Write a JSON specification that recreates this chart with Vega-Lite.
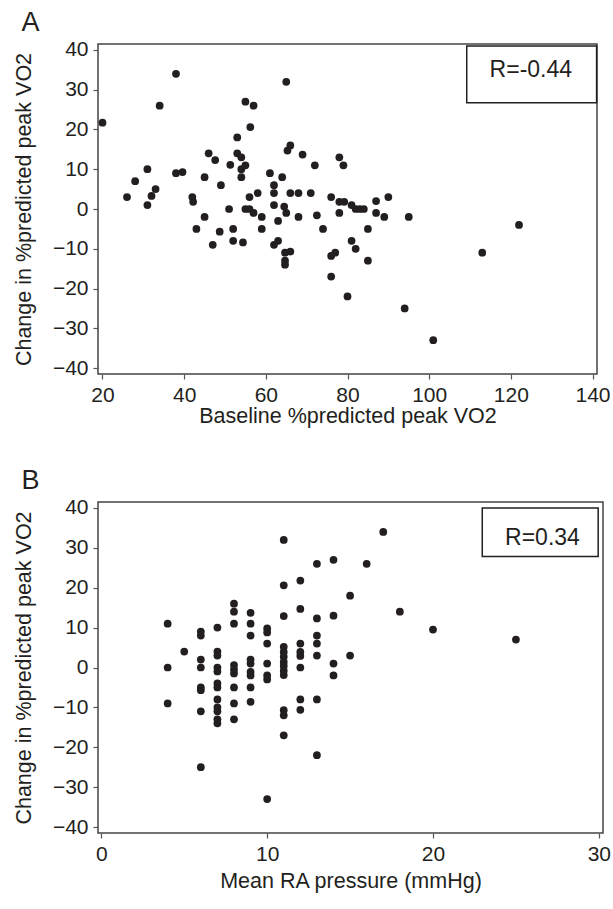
{
  "$schema": "https://vega.github.io/schema/vega-lite/v6.json",
  "background": "white",
  "padding": {"left": 12, "top": 8, "right": 0, "bottom": 4},
  "spacing": 38,
  "config": {
    "font": "Liberation Sans",
    "view": {"stroke": "#444", "strokeWidth": 1.5},
    "axis": {"grid": false, "domain": false, "labelFontSize": 21, "titleFontSize": 21.5, "labelColor": "#231f20", "titleColor": "#231f20", "tickColor": "#555", "titleFontWeight": "normal", "labelPadding": 5, "tickSize": 5, "tickWidth": 1.2},
    "axisY": {"titlePadding": 17},
    "title": {"fontSize": 27, "fontWeight": "normal", "anchor": "start", "frame": "bounds", "color": "#231f20", "offset": 2, "dx": 8}
  },
  "datasets": {
    "a": [
      {"x":20,"y":21.7},{"x":38,"y":34},{"x":34,"y":26},{"x":55,"y":27},{"x":57,"y":26},{"x":56.2,"y":20.6},{"x":53,"y":18},{"x":46,"y":14},{"x":47.6,"y":12.3},{"x":53,"y":14},{"x":54,"y":13},{"x":51.3,"y":11.1},{"x":55,"y":11},{"x":54,"y":10},{"x":54,"y":8},{"x":31,"y":10},{"x":28,"y":7},{"x":26,"y":3},{"x":33,"y":5},{"x":32,"y":3.3},{"x":31,"y":1},{"x":38,"y":9},{"x":39.6,"y":9.3},{"x":45,"y":8},{"x":49,"y":6},{"x":42,"y":3},{"x":42.2,"y":1.8},{"x":51,"y":0},{"x":55,"y":0},{"x":56,"y":0},{"x":56,"y":3},{"x":58,"y":4},{"x":61,"y":9},{"x":62,"y":6},{"x":62,"y":4},{"x":62,"y":1},{"x":65,"y":32},{"x":66,"y":16},{"x":65.3,"y":14.7},{"x":69,"y":13.7},{"x":78,"y":13},{"x":79,"y":11},{"x":72,"y":11},{"x":64,"y":8},{"x":66,"y":4},{"x":68,"y":4},{"x":71,"y":4},{"x":76,"y":3},{"x":78,"y":1.8},{"x":79.2,"y":1.8},{"x":81,"y":1},{"x":82,"y":0},{"x":83,"y":0},{"x":84,"y":0},{"x":87,"y":2},{"x":90,"y":3},{"x":64.5,"y":0.6},{"x":65,"y":-1},{"x":59,"y":-2},{"x":59,"y":-5},{"x":63,"y":-3},{"x":68,"y":-2},{"x":72.5,"y":-1.6},{"x":78,"y":-1},{"x":87,"y":-1},{"x":89,"y":-2},{"x":95,"y":-2},{"x":74,"y":-5},{"x":85,"y":-5},{"x":62,"y":-9},{"x":63,"y":-8},{"x":64.7,"y":-11},{"x":66,"y":-10.7},{"x":64.7,"y":-13},{"x":64.7,"y":-14},{"x":81,"y":-8},{"x":82,"y":-10},{"x":76,"y":-11.8},{"x":77,"y":-11},{"x":85,"y":-13},{"x":76,"y":-17},{"x":80,"y":-22},{"x":94,"y":-25},{"x":101,"y":-33},{"x":57,"y":-1},{"x":45,"y":-2},{"x":43,"y":-5},{"x":48.7,"y":-5.7},{"x":52,"y":-5},{"x":47,"y":-9},{"x":52,"y":-8},{"x":54.4,"y":-8.4},{"x":122,"y":-4},{"x":113,"y":-11}
    ],
    "b": [
      {"x":4,"y":11},{"x":4,"y":0},{"x":4,"y":-9},
      {"x":5,"y":4},
      {"x":6,"y":9},{"x":6,"y":8},{"x":6,"y":2},{"x":6,"y":0},{"x":6,"y":-5},{"x":6,"y":-5.7},{"x":6,"y":-11},{"x":6,"y":-25},
      {"x":7,"y":10},{"x":7,"y":4},{"x":7,"y":3},{"x":7,"y":0},{"x":7,"y":-1},{"x":7,"y":-4},{"x":7,"y":-5},{"x":7,"y":-8},{"x":7,"y":-10},{"x":7,"y":-11},{"x":7,"y":-13},{"x":7,"y":-14},
      {"x":8,"y":16},{"x":8,"y":14},{"x":8,"y":11},{"x":8,"y":0.6},{"x":8,"y":-0.5},{"x":8,"y":-1.5},{"x":8,"y":-5},{"x":8,"y":-9},{"x":8,"y":-13},
      {"x":9,"y":13.7},{"x":9,"y":11},{"x":9,"y":8},{"x":9,"y":2},{"x":9,"y":1},{"x":9,"y":-1.1},{"x":9,"y":-2},{"x":9,"y":-5},{"x":9,"y":-8.6},
      {"x":10,"y":9.8},{"x":10,"y":8.8},{"x":10,"y":6},{"x":10,"y":1},{"x":10,"y":-2},{"x":10,"y":-3},{"x":10,"y":-33},
      {"x":11,"y":32},{"x":11,"y":20.6},{"x":11,"y":12.9},{"x":11,"y":5.2},{"x":11,"y":3.9},{"x":11,"y":2.7},{"x":11,"y":1.4},{"x":11,"y":0.4},{"x":11,"y":-0.8},{"x":11,"y":-1.9},{"x":11,"y":-10.7},{"x":11,"y":-12},{"x":11,"y":-17},
      {"x":12,"y":21.8},{"x":12,"y":14.7},{"x":12,"y":6},{"x":12,"y":3.9},{"x":12,"y":2.9},{"x":12,"y":0},{"x":12,"y":-8},{"x":12,"y":-10.6},
      {"x":13,"y":26},{"x":13,"y":12.3},{"x":13,"y":8},{"x":13,"y":6},{"x":13,"y":3},{"x":13,"y":-8},{"x":13,"y":-22},
      {"x":14,"y":27},{"x":14,"y":13},{"x":14,"y":1},{"x":14,"y":-2},
      {"x":15,"y":18},{"x":15,"y":3},
      {"x":16,"y":26},{"x":17,"y":34},{"x":18,"y":14},{"x":20,"y":9.5},{"x":25,"y":7}
    ]
  },
  "vconcat": [
    {
      "title": "A",
      "width": 499,
      "height": 330,
      "layer": [
        {
          "data": {"name": "a"},
          "mark": {"type": "circle", "size": 60, "color": "#231f20", "opacity": 1},
          "encoding": {
            "x": {"field": "x", "type": "quantitative", "scale": {"domain": [18.9, 141.1], "nice": false, "zero": false}, "axis": {"values": [20, 40, 60, 80, 100, 120, 140], "title": "Baseline %predicted peak VO2", "titlePadding": 0}},
            "y": {"field": "y", "type": "quantitative", "scale": {"domain": [-41.5, 41.5], "nice": false, "zero": false}, "axis": {"values": [-40, -30, -20, -10, 0, 10, 20, 30, 40], "title": "Change in %predicted peak VO2"}}
          }
        },
        {
          "data": {"values": [{"label": "R=-0.44"}]},
          "mark": {"type": "rect", "fill": "white", "stroke": "#231f20", "strokeWidth": 1.5},
          "encoding": {"x": {"datum": 109.2, "type": "quantitative"}, "x2": {"datum": 141}, "y": {"datum": 41.0, "type": "quantitative"}, "y2": {"datum": 26.7}}
        },
        {
          "data": {"values": [{"label": "R=-0.44"}]},
          "mark": {"type": "text", "fontSize": 23, "color": "#231f20", "align": "center", "baseline": "middle"},
          "encoding": {"x": {"datum": 124.9, "type": "quantitative"}, "y": {"datum": 35.0, "type": "quantitative"}, "text": {"field": "label"}}
        }
      ]
    },
    {
      "title": "B",
      "width": 505,
      "height": 331,
      "layer": [
        {
          "data": {"name": "b"},
          "mark": {"type": "circle", "size": 60, "color": "#231f20", "opacity": 1},
          "encoding": {
            "x": {"field": "x", "type": "quantitative", "scale": {"domain": [-0.2, 30.25], "nice": false, "zero": false}, "axis": {"values": [0, 10, 20, 30], "title": "Mean RA pressure (mmHg)", "titlePadding": 6}},
            "y": {"field": "y", "type": "quantitative", "scale": {"domain": [-41.5, 41.5], "nice": false, "zero": false}, "axis": {"values": [-40, -30, -20, -10, 0, 10, 20, 30, 40], "title": "Change in %predicted peak VO2"}}
          }
        },
        {
          "data": {"values": [{"label": "R=0.34"}]},
          "mark": {"type": "rect", "fill": "white", "stroke": "#231f20", "strokeWidth": 1.5},
          "encoding": {"x": {"datum": 22.97, "type": "quantitative"}, "x2": {"datum": 29.96}, "y": {"datum": 40.0, "type": "quantitative"}, "y2": {"datum": 27.85}}
        },
        {
          "data": {"values": [{"label": "R=0.34"}]},
          "mark": {"type": "text", "fontSize": 23, "color": "#231f20", "align": "center", "baseline": "middle"},
          "encoding": {"x": {"datum": 26.6, "type": "quantitative"}, "y": {"datum": 32.45, "type": "quantitative"}, "text": {"field": "label"}}
        }
      ]
    }
  ]
}
